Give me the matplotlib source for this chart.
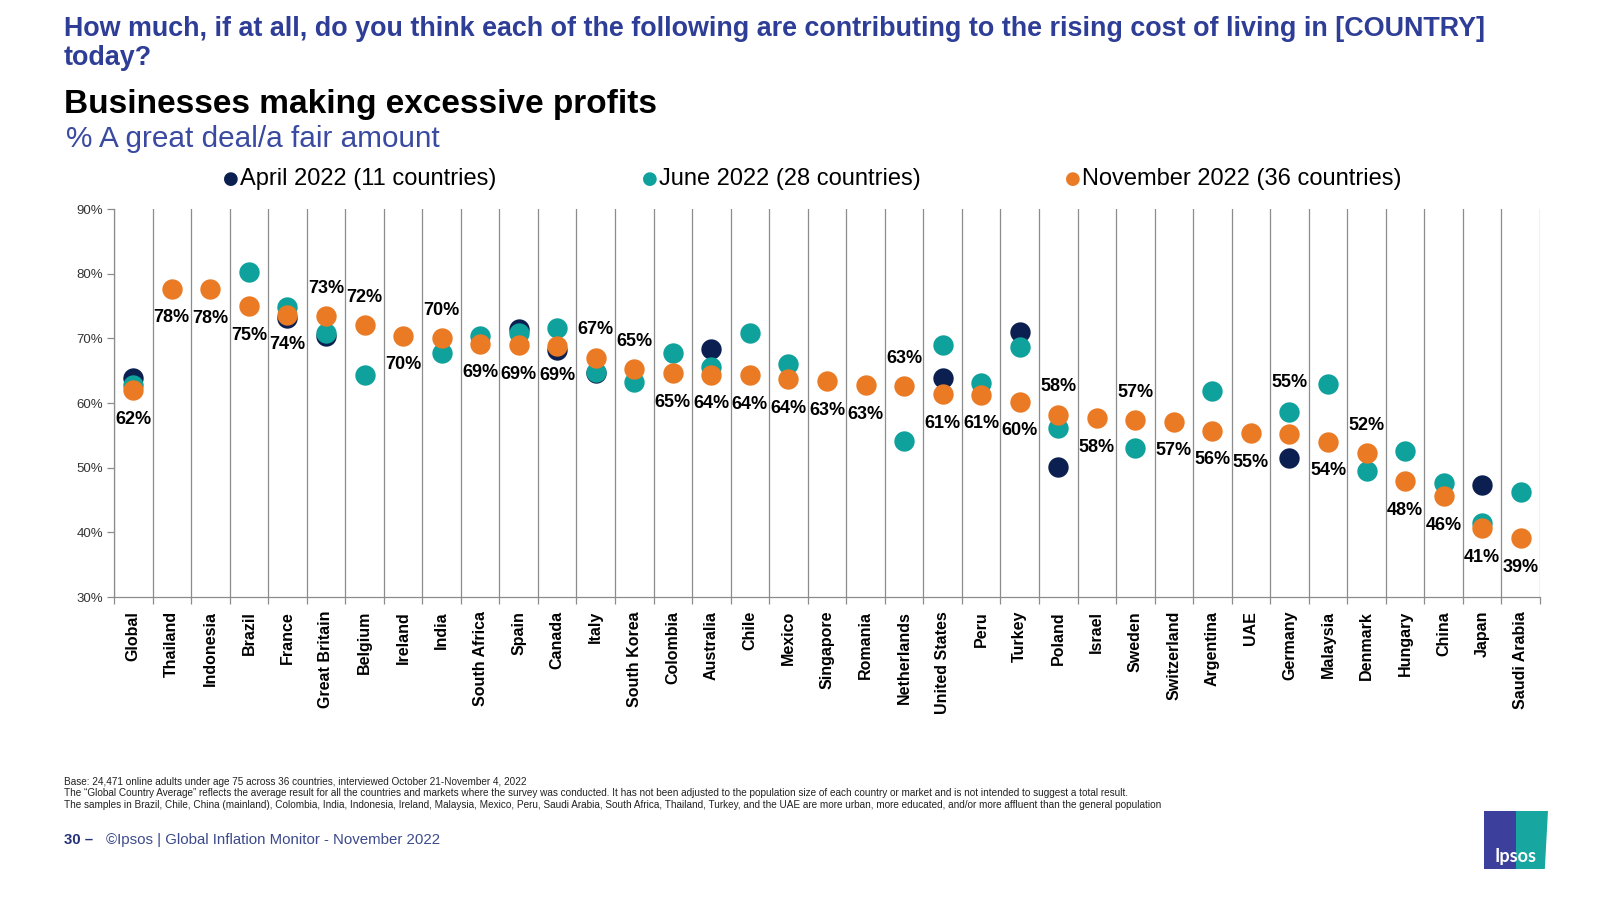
import matplotlib
matplotlib.use("Agg")
import matplotlib.pyplot as plt
from matplotlib import font_manager
from matplotlib.patches import Rectangle, Polygon

available = {f.name for f in font_manager.fontManager.ttflist}
NARROW = "Liberation Sans Narrow" if "Liberation Sans Narrow" in available else "Liberation Sans"
plt.rcParams["font.family"] = ["Liberation Sans", "DejaVu Sans"]

countries = ["Global", "Thailand", "Indonesia", "Brazil", "France", "Great Britain", "Belgium",
             "Ireland", "India", "South Africa", "Spain", "Canada", "Italy", "South Korea",
             "Colombia", "Australia", "Chile", "Mexico", "Singapore", "Romania", "Netherlands",
             "United States", "Peru", "Turkey", "Poland", "Israel", "Sweden", "Switzerland",
             "Argentina", "UAE", "Germany", "Malaysia", "Denmark", "Hungary", "China", "Japan",
             "Saudi Arabia"]

# None = country not surveyed in that wave
april_2022 = [63.8, None, None, None, 73.2, 70.3, None, None, None, None, 71.4, 68.2, 64.6,
              None, None, 68.3, None, None, None, None, None, 63.8, None, 71.0, 50.1, None,
              None, None, None, None, 51.5, None, None, None, None, 47.3, None]
june_2022 = [62.8, None, None, 80.2, 74.8, 70.9, 64.3, None, 67.7, 70.3, 70.9, 71.6, 64.8,
             63.3, 67.8, 65.6, 70.9, 66.0, None, None, 54.1, 69.0, 63.1, 68.7, 56.1, None,
             53.1, None, 61.8, None, 58.6, 62.9, 49.5, 52.6, 47.6, 41.4, 46.3]
november_2022 = [62.0, 77.7, 77.6, 75.0, 73.6, 73.4, 72.0, 70.4, 70.0, 69.2, 68.9, 68.8, 67.0,
                 65.2, 64.6, 64.4, 64.3, 63.7, 63.4, 62.8, 62.6, 61.4, 61.3, 60.2, 58.2, 57.7,
                 57.4, 57.1, 55.7, 55.3, 55.2, 54.0, 52.2, 47.9, 45.6, 40.6, 39.1]
# vertical offset (points) of each November label from its marker
label_offset = [-21, -21, -21, -21, -21, 20, 20, -21, 20, -21, -21, -21,
                20, 20, -21, -21, -21, -21, -21, -21, 20, -21, -21, -21,
                20, -21, 20, -21, -21, -21, 37, -21, 20, -21, -21, -21,
                -21]

series = [
    ("April 2022 (11 countries)", april_2022, "#0B2050"),
    ("June 2022 (28 countries)", june_2022, "#0FA19C"),
    ("November 2022 (36 countries)", november_2022, "#EA7A24"),
]

BLUE = "#2E3D96"
GRID = "#8C8C8C"

fig = plt.figure(figsize=(16, 9), dpi=100)
ax = fig.add_axes([114 / 1600, 1 - 597 / 900, (1540 - 114) / 1600, (597 - 209) / 900])

n = len(countries)
for name, vals, color in series:
    xs = [i for i, v in enumerate(vals) if v is not None]
    ys = [v for v in vals if v is not None]
    ax.scatter(xs, ys, s=215, color=color, linewidths=0, zorder=3, clip_on=False)

for i, v in enumerate(november_2022):
    ax.annotate(f"{round(v)}%", (i, v), xytext=(0, label_offset[i]), textcoords="offset points",
                ha="center", va="center", fontsize=13, fontweight="bold", color="black",
                zorder=4)

ax.set_xlim(-0.5, n - 0.5)
ax.set_ylim(30, 90)
ax.set_yticks(range(30, 91, 10))
ax.set_yticklabels([f"{t}%" for t in range(30, 91, 10)], fontsize=9.5, color="#333333",
                   family=NARROW)
for b in range(n + 1):
    ax.axvline(b - 0.5, color=GRID, lw=0.9, zorder=1)
ax.set_xticks([b - 0.5 for b in range(n + 1)], minor=True)
ax.set_xticks(range(n))
ax.set_xticklabels(countries, rotation=90, fontsize=11.5, fontweight="bold", va="top")
ax.tick_params(axis="x", which="major", length=0, pad=10)
ax.tick_params(axis="x", which="minor", length=5, color=GRID, width=0.9)
ax.tick_params(axis="y", length=5, color=GRID, width=0.9, pad=3)
for side in ["top", "right"]:
    ax.spines[side].set_visible(False)
for side in ["left", "bottom"]:
    ax.spines[side].set_color(GRID)
    ax.spines[side].set_linewidth(0.9)

# headline texts
fig.text(64 / 1600, 1 - 29 / 900,
         "How much, if at all, do you think each of the following are contributing to the rising cost of living in [COUNTRY]",
         fontsize=19.4, fontweight="bold", color=BLUE, family=NARROW, va="center")
fig.text(64 / 1600, 1 - 58 / 900, "today?", fontsize=19.4, fontweight="bold", color=BLUE,
         family=NARROW, va="center")
fig.text(64 / 1600, 1 - 105 / 900, "Businesses making excessive profits", fontsize=24,
         fontweight="bold", color="black", va="center")
fig.text(66 / 1600, 1 - 139 / 900, "% A great deal/a fair amount", fontsize=21.4,
         color="#3A4AA0", family=NARROW, va="center")

# legend
legend_x = [231, 650, 1073]
for (name, vals, color), lx in zip(series, legend_x):
    fig.text(lx / 1600, 1 - 179 / 900, "\u25CF", color=color, fontsize=13,
             ha="center", va="center", family="DejaVu Sans")
    fig.text((lx + 9) / 1600, 1 - 179 / 900, name, color="black", fontsize=17,
             family=NARROW, va="center")

# notes
notes = [
    "Base: 24,471 online adults under age 75 across 36 countries, interviewed October 21-November 4, 2022",
    "The \u201cGlobal Country Average\u201d reflects the average result for all the countries and markets where the survey was conducted. It has not been adjusted to the population size of each country or market and is not intended to suggest a total result.",
    "The samples in Brazil, Chile, China (mainland), Colombia, India, Indonesia, Ireland, Malaysia, Mexico, Peru, Saudi Arabia, South Africa, Thailand, Turkey, and the UAE are more urban, more educated, and/or more affluent than the general population",
]
for k, line in enumerate(notes):
    fig.text(64 / 1600, 1 - (782 + 11.5 * k) / 900, line, fontsize=7.2, color="#222222",
             family=NARROW, va="center")

fig.text(64 / 1600, 1 - 840 / 900, "30 \u2013", fontsize=10.8, fontweight="bold",
         color="#253278", family=NARROW, va="center")
fig.text(106 / 1600, 1 - 840 / 900, "\u00A9Ipsos | Global Inflation Monitor - November 2022",
         fontsize=10.8, color="#3C4A8C", family=NARROW, va="center")

# logo
lx0, lx1, ly0, ly1 = 1484 / 1600, 1548 / 1600, 1 - 869 / 900, 1 - 811 / 900
mid = (lx0 + lx1) / 2
fig.patches.append(Rectangle((lx0, ly0), mid - lx0, ly1 - ly0, transform=fig.transFigure,
                             facecolor="#3D3F9C", edgecolor="none"))
fig.patches.append(Polygon([(mid, ly0), (lx1 - 0.002, ly0), (lx1, ly1), (mid, ly1)],
                           transform=fig.transFigure, facecolor="#17A6A0", edgecolor="none"))
fig.text((lx0 + lx1) / 2, ly0 + 0.014, "Ipsos", color="white", fontsize=13,
         fontweight="bold", ha="center", va="center", family="Lato")

fig.savefig("out.png", dpi=100, facecolor="white")
